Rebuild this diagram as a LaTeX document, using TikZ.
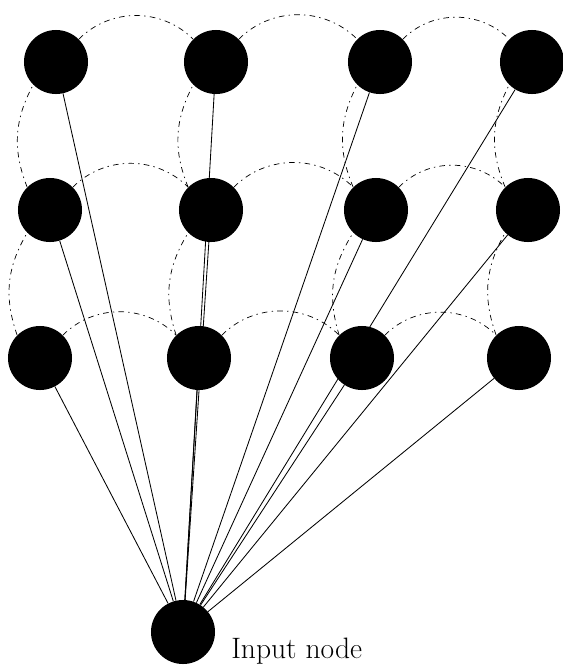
\documentclass[tikz,border=0pt]{standalone}
\usetikzlibrary{positioning}
\begin{document}
\begin{tikzpicture}[x=0.025cm, y=-0.025cm]
	\tikzset{
		unit/.style={circle, fill=black, inner sep=0pt, minimum size=1.6cm},
		lattice/.style={line width=0.5pt, dash pattern=on 4pt off 3pt on 1pt off 3pt},
		feed/.style={line width=0.6pt}
	}
	\useasboundingbox (0,0) rectangle (563,666);

	\foreach \x/\l in {56/1, 216/2, 380/3, 532/4} {
			\node[unit] (t\l) at (\x, 62) {};
		}
	\foreach \x/\l in {50/1, 211/2, 376/3, 528/4} {
			\node[unit] (m\l) at (\x, 210) {};
		}
	\foreach \x/\l in {40/1, 199/2, 362/3, 519/4} {
			\node[unit] (b\l) at (\x, 358) {};
		}
	\node[unit] (in) at (183, 632) {};
	\node[anchor=base west, inner sep=0pt, font=\fontsize{21}{25}\selectfont] (inlabel) at (231, 658) {Input node};

	% lattice connections
	\foreach \a/\b in {1/2, 2/3, 3/4} {
			\draw[lattice] (t\a.north east) to[bend left=45] (t\b.north west);
			\draw[lattice] (m\a.north east) to[bend left=45] (m\b.north west);
			\draw[lattice] (b\a.north east) to[bend left=45] (b\b.north west);
		}
	\foreach \a in {1, 2, 3, 4} {
			\draw[lattice] (m\a.north west) to[bend left=25] (t\a.south west);
			\draw[lattice] (b\a.north west) to[bend left=25] (m\a.south west);
		}

	% input connections
	\foreach \l in {1, 2, 3, 4} {
			\draw[feed] (in) -- (t\l);
			\draw[feed] (in) -- (m\l);
			\draw[feed] (in) -- (b\l);
		}
\end{tikzpicture}
\end{document}
